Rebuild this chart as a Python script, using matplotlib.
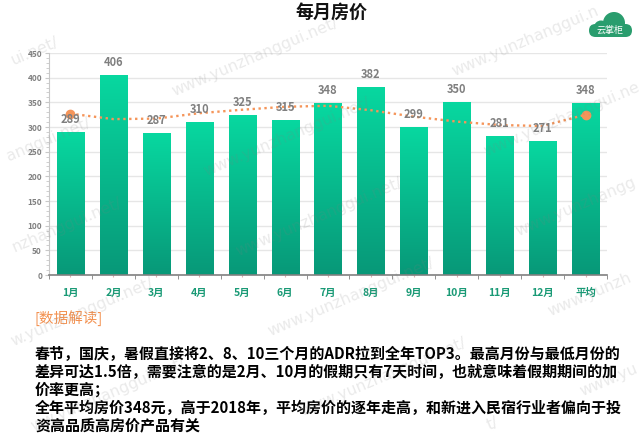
import numpy as np
import matplotlib
matplotlib.use("Agg")
import matplotlib.pyplot as plt
from matplotlib.patches import Circle, FancyBboxPatch
from matplotlib.ticker import MultipleLocator, FixedLocator, NullFormatter
from matplotlib.colors import LinearSegmentedColormap
from matplotlib.textpath import TextToPath
from matplotlib.font_manager import FontProperties

plt.rcParams['font.family'] = ['Noto Sans CJK SC', 'DejaVu Sans']

# ---------------- data ----------------
categories = ['1月', '2月', '3月', '4月', '5月', '6月', '7月', '8月', '9月', '10月', '11月', '12月', '平均']
prices = [289, 406, 287, 310, 325, 315, 348, 382, 299, 350, 281, 271, 348]
trend = [327, 316, 317, 328, 335, 341, 343, 334, 321, 311, 304, 302, 325]
y_ticks = [0, 50, 100, 150, 200, 250, 300, 350, 400, 450]

title = '每月房价'
section_title = '[数据解读]'
body_lines = [
    '春节，国庆，暑假直接将2、8、10三个月的ADR拉到全年TOP3。最高月份与最低月份的',
    '差异可达1.5倍，需要注意的是2月、10月的假期只有7天时间，也就意味着假期期间的加',
    '价率更高；',
    '全年平均房价348元，高于2018年，平均房价的逐年走高，和新进入民宿行业者偏向于投',
    '资高品质高房价产品有关',
]
watermark = 'www.yunzhanggui.net/'
logo_text = '云掌柜'

# ---------------- figure ----------------
W, H = 643, 436
fig = plt.figure(figsize=(W / 100, H / 100), dpi=100)
fig.patch.set_facecolor('white')

bg = fig.add_axes([0, 0, 1, 1], zorder=0)
bg.set_xlim(0, W)
bg.set_ylim(H, 0)
bg.axis('off')

# cloud logo
cloud_col = '#2a9d6e'
bg.add_patch(FancyBboxPatch((589, 24), 43, 13, boxstyle='round,pad=0,rounding_size=6.5',
                            facecolor=cloud_col, edgecolor='none'))
bg.add_patch(Circle((614, 23), 11, facecolor=cloud_col, edgecolor='none'))
bg.add_patch(Circle((601, 27.5), 7, facecolor=cloud_col, edgecolor='none'))
bg.text(610, 30, logo_text, color='white', fontsize=6.5, ha='center', va='center')

# title
fig.text(332 / W, 1 - 12 / H, title, ha='center', va='center', fontsize=13,
         fontweight='bold', color='#111111')

# ---------------- chart ----------------
left, right, bottom_px, top_px = 49, 607, 275, 53
ax = fig.add_axes([left / W, 1 - bottom_px / H, (right - left) / W, (bottom_px - top_px) / H], zorder=2)
ax.patch.set_alpha(0)

x = np.arange(len(categories))
bars = ax.bar(x, prices, width=0.63, facecolor='none', edgecolor='none', zorder=2)

grad = np.linspace(0, 1, 256).reshape(-1, 1)
cmap = LinearSegmentedColormap.from_list('g', ['#089878', '#07d8a0'])
for b in bars:
    x0, w, h = b.get_x(), b.get_width(), b.get_height()
    im = ax.imshow(grad, extent=(x0, x0 + w, 0, h), origin='lower', cmap=cmap,
                   aspect='auto', zorder=2)
    im.set_clip_path(b)

for xi, v in zip(x, prices):
    ax.annotate(str(v), (xi, v), xytext=(0, 9), textcoords='offset points',
                ha='center', va='center', fontsize=8, fontweight='bold', color='#7f7f7f', zorder=4)

ax.plot(x, trend, linestyle=(0, (1, 1.5)), color='#f5955a', linewidth=1.7, zorder=3)
ax.plot([x[0], x[-1]], [trend[0], trend[-1]], linestyle='none', marker='o',
        markersize=6, color='#f5955a', zorder=3)

ax.set_xlim(-0.5, len(categories) - 0.5)
ax.set_ylim(0, 450)
ax.set_yticks(y_ticks)
ax.yaxis.set_minor_locator(MultipleLocator(10))
ax.yaxis.grid(True, color='#e6e6e6', linewidth=1)
ax.set_axisbelow(True)

ax.set_xticks(x)
ax.set_xticklabels(categories)
ax.xaxis.set_minor_locator(FixedLocator(np.arange(len(categories) + 1) - 0.5))
ax.xaxis.set_minor_formatter(NullFormatter())
ax.tick_params(axis='x', which='major', length=1.5, color='#e0b0b0', pad=8,
               labelsize=7.5, labelcolor='#1a9a76')
ax.tick_params(axis='x', which='minor', length=3, color='#808080', direction='out')
for lbl in ax.get_xticklabels():
    lbl.set_fontweight('bold')
ax.tick_params(axis='y', which='major', length=3, color='#c8c8c8', labelsize=6,
               labelcolor='#808080', pad=2)
ax.tick_params(axis='y', which='minor', length=2, color='#c8c8c8')
for lbl in ax.get_yticklabels():
    lbl.set_fontweight('bold')

for s in ['top', 'right']:
    ax.spines[s].set_visible(False)
ax.spines['left'].set_color('#c8c8c8')
ax.spines['bottom'].set_color('#808080')
ax.spines['bottom'].set_linewidth(1.2)

# ---------------- text block ----------------
fig.text(35 / W, 1 - 318 / H, section_title, ha='left', va='center', fontsize=10.5,
         color='#f39150')
line_y = [354, 372, 390, 408, 425]
for yy, line in zip(line_y, body_lines):
    fig.text(35 / W, 1 - yy / H, line, ha='left', va='center', fontsize=10.8,
             fontweight='bold', color='#000000')

# ---------------- tiled watermark on top (only the visible part) ----------------
wm = fig.add_axes([0, 0, 1, 1], zorder=10)
wm.set_xlim(0, W)
wm.set_ylim(H, 0)
wm.axis('off')
wm.patch.set_alpha(0)

ttp = TextToPath()
wm_family = 'DejaVu Sans'
base_w = ttp.get_text_width_height_descent(watermark, FontProperties(family=wm_family, size=10), ismath=False)[0]
wm_len_px = 180.0
wm_fs = 10 * wm_len_px / (base_w * 100 / 72)
wm_prop = FontProperties(family=wm_family, size=wm_fs)
fs_px = wm_fs * 100 / 72
theta = np.deg2rad(23)
ux, uy = np.cos(theta), -np.sin(theta)
nx, ny = -np.sin(theta), -np.cos(theta)


def adv_px(s):
    if not s:
        return 0.0
    return ttp.get_text_width_height_descent(s, wm_prop, ismath=False)[0] * 100 / 72


def inside(px, py, m=1.5):
    return m <= px <= W - m and m <= py <= H - m


for i in (-1, 0, 1):
    for j in range(-1, 6):
        sx = 172 + 280 * i + 32 * j
        sy = 92 - 20 * i + 80 * j
        vis = []
        for k in range(len(watermark)):
            a0 = adv_px(watermark[:k])
            a1 = adv_px(watermark[:k + 1])
            ok = True
            for a in (a0, a1):
                for hsign in (-0.38, 0.38):
                    px = sx + ux * a + nx * hsign * fs_px
                    py = sy + uy * a + ny * hsign * fs_px
                    if not inside(px, py):
                        ok = False
            vis.append(ok)
        idx = [k for k, v in enumerate(vis) if v]
        if not idx:
            continue
        a, b = idx[0], idx[-1]
        off = adv_px(watermark[:a])
        wm.text(sx + ux * off, sy + uy * off, watermark[a:b + 1], rotation=23,
                rotation_mode='anchor', ha='left', va='center', fontproperties=wm_prop,
                color='#808080', alpha=0.17)

fig.savefig('out.png', dpi=100)
